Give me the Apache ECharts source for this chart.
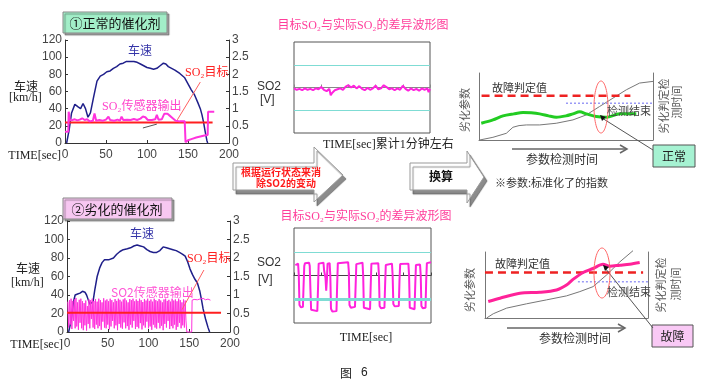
<!DOCTYPE html>
<html><head><meta charset="utf-8">
<script src="https://cdn.jsdelivr.net/npm/echarts/dist/echarts.min.js"></script>
<style>html,body{margin:0;padding:0;background:#fff}#c{width:711px;height:392px}</style>
</head><body><div id="c"></div>
<script>
// ---------- data ----------
const timeTicks = [0, 50, 100, 150, 200];
const speedTop = [[2,0],[5,15],[8,35],[12,45],[16,42],[19,40],[22,46],[25,40],[28,30],[31,35],[35,54],[39,72],[43,78],[47,80],[51,83],[55,84],[59,87],[63,89],[67,92],[71,93],[75,95],[80,95],[84,95],[88,94],[92,92],[96,90],[100,88],[104,87],[108,86],[112,87],[116,90],[120,93],[123,92],[126,89],[130,87],[134,85],[140,81],[146,76],[150,69],[154,62],[158,56],[162,47],[165,40],[167,33],[169,24],[171,13],[173,3],[174,0]];
const sensorTop = [[0,0.33],[4,0.33],[4.5,0.91],[5.5,0.91],[6,0.66],[9,0.67],[12,0.69],[15,0.66],[18,0.68],[21,0.72],[24,0.67],[27,0.69],[30,0.63],[34,0.65],[36,0.86],[38,0.65],[42,0.67],[46,0.65],[50,0.68],[53,0.77],[55,0.67],[60,0.65],[64,0.68],[67,0.65],[69,0.77],[71,0.67],[76,0.68],[80,0.67],[84,0.7],[88,0.67],[92,0.71],[95,0.77],[98,0.75],[101,0.67],[106,0.67],[110,0.69],[112,0.82],[114,0.68],[118,0.69],[121,0.85],[125,0.85],[128,0.79],[131,0.73],[135,0.65],[140,0.63],[146,0.63],[147,0.02],[150,0.08],[155,0.12],[160,0.16],[165,0.19],[170,0.22],[174,0.23],[174.5,0.91],[182,0.91]];
const targetTop = [[0,0.6],[180,0.6]];
const speedBottom = [[2,0],[5,12],[8,33],[10,40],[13,41],[16,42],[19,44],[22,43],[24,40],[26,35],[28,30],[30,31],[32,33],[34,45],[37,60],[40,69],[43,75],[46,78],[48,79],[51,78],[53,77],[57,80],[61,84],[65,87],[69,89],[74,90],[78,91],[82,93],[86,94],[90,93],[94,92],[98,89],[102,87],[106,86],[110,86],[114,88],[118,92],[122,91],[126,90],[130,89],[134,88],[138,86],[142,84],[145,82],[148,76],[151,68],[154,62],[157,57],[160,53],[163,44],[165,35],[167,25],[170,14],[173,5],[175,0]];
const sensorBottomStart = 1;
const sensorBottomV = [0.82,0.12,0.86,0.2,0.9,0.08,0.84,0.3,0.88,0.1,0.92,0.15,0.8,0.06,0.87,0.25,0.9,0.1,0.83,0.05,0.78,0.18,0.85,0.04,0.7,0.22,0.88,0.1,0.86,0.35,0.9,0.12,0.84,0.08,0.89,0.2,0.82,0.1,0.9,0.16,0.86,0.06,0.8,0.28,0.91,0.12,0.85,0.1,0.88,0.2,0.83,0.07,0.9,0.15,0.86,0.3,0.8,0.1,0.89,0.18,0.84,0.05,0.9,0.22,0.87,0.12,0.82,0.09,0.88,0.26,0.91,0.1,0.85,0.16,0.8,0.06,0.89,0.2,0.86,0.12,0.9,0.3,0.83,0.08,0.88,0.14,0.84,0.1,0.9,0.24,0.86,0.07,0.81,0.18,0.89,0.12,0.85,0.28,0.9,0.1,0.84,0.15,0.88,0.06,0.82,0.2,0.9,0.12,0.86,0.09,0.83,0.25,0.89,0.1,0.85,0.17,0.8,0.05,0.88,0.22,0.9,0.12,0.84,0.3,0.87,0.08,0.82,0.16,0.9,0.1,0.85,0.2,0.88,0.06,0.83,0.14,0.9,0.25,0.86,0.1,0.8,0.18,0.88,0.12,0.85,0.3];
const sensorBottomTail = [[147,0],[153,0],[153.5,0.86],[156,0.88],[158,0.92],[160,0.87],[163,0.89],[165,0.85],[167,0.91],[170,0.87],[173,0.89],[176,0.86]];
const targetBottom = [[0,0.52],[189,0.52]];
const diffNormal = [[0,-0.02],[2,-0.05],[4,-0.03],[6,-0.06],[8,-0.02],[10,-0.05],[12,-0.03],[14,-0.06],[16,-0.02],[18,-0.04],[20,0.01],[22,-0.05],[24,-0.08],[26,-0.03],[27,-0.17],[28,-0.12],[30,-0.06],[31,-0.1],[32,-0.04],[34,-0.02],[36,-0.05],[38,0.02],[40,0.05],[42,0.0],[44,0.04],[46,-0.02],[48,0.03],[50,-0.03],[52,-0.06],[54,-0.01],[56,-0.05],[58,-0.02],[60,0.04],[62,-0.04],[64,-0.02],[66,0.05],[68,0.01],[70,-0.04],[72,-0.02],[74,-0.06],[76,-0.02],[78,-0.05],[80,0.04],[82,-0.03],[84,-0.07],[86,-0.02],[88,-0.06],[90,-0.03],[92,-0.07],[94,-0.02],[96,-0.05],[98,-0.02],[99,-0.1],[100,-0.03]];
const diffAged = [[1,0.22],[3,0.25],[3.5,0.0],[4,-0.62],[5,-0.67],[6.5,-0.66],[7,-0.2],[7.5,0.2],[8,0.26],[11,0.27],[11.5,0.2],[12,-0.3],[12.5,-0.72],[13.5,-0.76],[17,-0.75],[17.5,-0.3],[18,0.25],[19,0.28],[21.5,0.27],[22,0.1],[23,-0.05],[23.5,-0.32],[24,-0.1],[24.5,0.25],[26,0.26],[26.5,0.0],[27,-0.7],[28,-0.76],[31,-0.75],[31.5,-0.2],[32,0.26],[33,0.29],[39.5,0.28],[40,0.1],[40.5,-0.62],[41.5,-0.68],[44.5,-0.66],[45,-0.2],[45.5,0.24],[46.5,0.28],[50,0.27],[50.5,0.0],[51,-0.68],[52,-0.72],[55.5,-0.71],[56,-0.2],[56.5,0.25],[57.5,0.28],[61.5,0.26],[62,0.0],[62.5,-0.64],[63.5,-0.69],[66,-0.68],[66.5,-0.2],[67,0.22],[68,0.26],[71.5,0.25],[72,0.0],[72.5,-0.6],[73.5,-0.65],[76.5,-0.64],[77,-0.1],[77.5,0.24],[78.5,0.26],[83.5,0.25],[84,0.0],[84.5,-0.68],[85.5,-0.72],[88,-0.71],[88.5,-0.2],[89,0.22],[90,0.24],[92,0.23],[92.5,0.0],[93,-0.64],[94,-0.69],[96,-0.68],[96.5,-0.1],[97,0.26],[98,0.29],[100,0.28]];
const bandLevels = [0.5, -0.5];
const nThreshold = [[-6,66],[87,66]];
const nEnd = [[50,55],[100,55]];
const nTime = [[0.4,0],[8,4],[15.7,10],[19.5,19],[23,21.5],[27.2,22.5],[34.9,22.5],[44.4,25],[54,30],[61.7,37.5],[69.3,50],[77,62.5],[84.7,75],[92.3,85],[100,87.5]];
const nParam = [[1.3,25],[8,30],[13.8,36],[20,39],[25.3,41],[30,40.5],[34.9,39],[40,36],[44.4,34],[50,36],[54,39],[57.9,42],[61.7,39],[67.4,35],[73.2,34],[80.8,39],[90.4,39]];
const fThreshold = [[-8,69],[97,69]];
const fEnd = [[57,55],[100,55]];
const fTime = [[1,0],[5.1,6.5],[13.3,15],[25.5,21.5],[37.8,27.5],[50,33.5],[58.2,40],[66.3,47.5],[74.5,65],[82.7,85],[90.8,102]];
const fParam = [[2,25],[9.2,30],[21.4,37.5],[33.7,39],[43.9,42.5],[50,50],[54,58.5],[60.2,69],[66.3,75],[72.4,81.5],[76.5,78.5],[82.7,80],[88.8,81.5],[94.9,84]];
const leaderTopTarget = [[165,71],[137,27]];
const leaderTopSensor = [[95,17.5],[112,22]];
const leaderBottomTarget = [[168,67],[141,24]];

// ---------- build ----------
const SANS = '"Liberation Sans", Arial, sans-serif';
const CJK = '"Noto Sans CJK SC", sans-serif';
const SERIF = '"Liberation Serif", "Noto Sans CJK SC", serif';
const sensorBottom = sensorBottomV.map((v,i)=>[sensorBottomStart+i, v]).concat(sensorBottomTail);

const axLine = c => ({show:true, onZero:false, lineStyle:{color:c, width:1}});
const timeAxis = g => ({type:'value', gridIndex:g, min:timeTicks[0], max:timeTicks[timeTicks.length-1], interval:timeTicks[1]-timeTicks[0],
  axisLine:axLine('#333'), axisTick:{show:true, inside:true, length:3, lineStyle:{color:'#333'}},
  axisLabel:{fontFamily:SANS, fontSize:12, color:'#444', margin:6}, splitLine:{show:false}});
const speedAxis = g => ({type:'value', gridIndex:g, min:0, max:120, interval:20, position:'left',
  axisLine:axLine('#333'), axisTick:{show:true, inside:true, length:3, lineStyle:{color:'#333'}},
  axisLabel:{fontFamily:SANS, fontSize:12, color:'#444', margin:3}, splitLine:{show:false}});
const voltAxis = g => ({type:'value', gridIndex:g, min:0, max:3, interval:0.5, position:'right',
  axisLine:axLine('#333'), axisTick:{show:true, inside:true, length:3, lineStyle:{color:'#333'}},
  axisLabel:{fontFamily:SANS, fontSize:12, color:'#444', margin:3}, splitLine:{show:false}});
const diffX = (g,c) => ({type:'value', gridIndex:g, min:0, max:100, interval:20,
  axisLine:{show:true, onZero:true, lineStyle:{color:c, width:1}}, axisTick:{show:true, inside:true, length:3, lineStyle:{color:c}},
  axisLabel:{show:false}, splitLine:{show:false}});
const diffY = g => ({type:'value', gridIndex:g, min:-1, max:1, axisLine:{show:false}, axisTick:{show:false}, axisLabel:{show:false}, splitLine:{show:false}});
const plainX = g => ({type:'value', gridIndex:g, min:0, max:100, axisLine:axLine('#777'), axisTick:{show:false}, axisLabel:{show:false}, splitLine:{show:false}});
const plainY = (g,pos) => ({type:'value', gridIndex:g, min:0, max:100, position:pos, axisLine:axLine('#777'), axisTick:{show:false}, axisLabel:{show:false}, splitLine:{show:false}});

const ln = (data, xi, yi, color, width, extra) => Object.assign({type:'line', data, xAxisIndex:xi, yAxisIndex:yi, symbol:'none', silent:true,
  lineStyle:{color, width}, clip:false}, extra||{});

const option = {
  animation:false,
  backgroundColor:'#fff',
  grid:[
    {left:65, top:40, width:164, height:103},
    {left:294, top:42, width:136, height:91, show:true, borderColor:'#555', borderWidth:1, backgroundColor:'rgba(0,0,0,0)'},
    {left:479, top:73, width:174, height:67},
    {left:67, top:221, width:163, height:111},
    {left:294, top:228, width:137, height:95, show:true, borderColor:'#555', borderWidth:1, backgroundColor:'rgba(0,0,0,0)'},
    {left:485, top:252, width:163, height:66}
  ],
  xAxis:[timeAxis(0), diffX(1,'#888'), plainX(2), timeAxis(3), diffX(4,'#444'), plainX(5)],
  yAxis:[speedAxis(0), voltAxis(0), diffY(1), plainY(2,'left'), plainY(2,'right'),
         speedAxis(3), voltAxis(3), diffY(4), plainY(5,'left'), plainY(5,'right')],
  series:[
    ln(speedTop,0,0,'#1f1f8a',1.5),
    ln(targetTop,0,1,'#ff1f1f',2),
    ln(sensorTop,0,1,'#ff33dd',2),
    ln(leaderTopTarget,0,0,'#ff6060',1),
    ln(leaderTopSensor,0,0,'#555',1),
    ln(diffNormal,1,2,'#ff22dd',2,{markLine:{symbol:['none','none'], silent:true, label:{show:false},
      data:bandLevels.map(v=>({yAxis:v, lineStyle:{color:'#7fdcd4', width:1.2, type:'solid'}}))}}),
    ln(nTime,2,3,'#777',1),
    ln(nThreshold,2,3,'#ee2222',2.5,{lineStyle:{color:'#ee2222', width:2.5, type:[8,5]}}),
    ln(nEnd,2,3,'#9a9af5',1.5,{lineStyle:{color:'#9a9af5', width:1.5, type:[2,2]}}),
    ln(nParam,2,3,'#22cc22',3,{smooth:0.3}),
    ln(speedBottom,3,5,'#1f1f8a',1.5),
    ln(sensorBottom,3,6,'#ff33dd',1),
    ln(targetBottom,3,6,'#ff1f1f',2),
    ln(leaderBottomTarget,3,5,'#ff6060',1),
    ln(diffAged,4,7,'#ff22dd',2,{markLine:{symbol:['none','none'], silent:true, label:{show:false},
      data:[{yAxis:bandLevels[0], lineStyle:{color:'#7fdcd4', width:1.2, type:'solid'}},{yAxis:bandLevels[1], lineStyle:{color:'#7fdcd4', width:3, type:'solid'}}]}}),
    ln(fTime,5,8,'#777',1),
    ln(fThreshold,5,8,'#ee2222',2.5,{lineStyle:{color:'#ee2222', width:2.5, type:[8,5]}}),
    ln(fEnd,5,8,'#9a9af5',1.5,{lineStyle:{color:'#9a9af5', width:1.5, type:[2,2]}}),
    ln(fParam,5,8,'#ff2299',3,{smooth:0.3})
  ],
  graphic:[]
};

const G = option.graphic;
function T(x,y,text,size,fill,fam,align,extra){
  G.push(Object.assign({type:'text', x, y, z:100, silent:true, style:{text, fontSize:size, fontFamily:fam||CJK, fill:fill||'#222', align:align||'left', verticalAlign:'middle'}}, extra||{}));
}
function R(x,y,w,h,fill,stroke,shadow){
  G.push({type:'rect', z:90, silent:true, shape:{x,y,width:w,height:h}, style:{fill, stroke, lineWidth:1, shadowColor:shadow?'rgba(0,0,0,0.35)':'transparent', shadowOffsetX:shadow?2:0, shadowOffsetY:shadow?2:0, shadowBlur:shadow?1:0}});
}
function L(pts,color,w){ G.push({type:'polyline', z:95, silent:true, shape:{points:pts}, style:{stroke:color, lineWidth:w, fill:'none'}}); }

// left panels
R(63,12,104,21,'#a2eec8','#888',true); T(115,23,'①正常的催化剂',13,'#111',CJK,'center');
R(63,198,109,21,'#f7c7f1','#888',true); T(117,209,'②劣化的催化剂',13,'#111',CJK,'center');
T(61,156,'TIME[sec]',12,'#222',SERIF,'right');
T(63,345,'TIME[sec]',12,'#222',SERIF,'right');
T(14,86,'车速',12,'#222',CJK); T(9,98,'[km/h]',12,'#222',SERIF);
T(16,268,'车速',12,'#222',CJK); T(11,283,'[km/h]',12,'#222',SERIF);
T(128,50,'车速',12,'#3535a8',CJK); T(130,233,'车速',12,'#3535a8',CJK);
T(185,73,'SO₂目标',12,'#ff2020',SERIF); T(187,259,'SO₂目标',12,'#ff2020',SERIF);
T(102,107,'SO₂传感器输出',12,'#ff44cc',SERIF); T(111,292,'SO2传感器输出',12,'#ff55d5',CJK);

// middle panels
T(363,26,'目标SO₂与实际SO₂的差异波形图',12,'#ff3d9a',SERIF,'center');
T(366,217,'目标SO₂与实际SO₂的差异波形图',12,'#ff3d9a',SERIF,'center');
T(257,87,'SO2',12,'#333',SANS); T(260,100,'[V]',12,'#333',SANS);
T(257,263,'SO2',12,'#333',SANS); T(258,280,'[V]',12,'#333',SANS);
T(323,145,'TIME[sec]累计1分钟左右',12,'#222',SERIF);
T(366,338,'TIME[sec]',12,'#222',SERIF,'center');

// block arrows
G.push({type:'polygon', z:80, silent:true, shape:{points:[[233,163],[314,163],[314,147],[343,175],[314,202],[314,190],[233,190]]},
  style:{fill:'#fff', stroke:'#999', lineWidth:1, shadowColor:'rgba(0,0,0,0.45)', shadowOffsetX:3, shadowOffsetY:4, shadowBlur:1}});
T(281,172,'根据运行状态来消',10,'#ff1a1a',CJK,'center',{style:{text:'根据运行状态来消',fontSize:10,fontWeight:'bold',fontFamily:CJK,fill:'#ff1a1a',align:'center',verticalAlign:'middle'}});
T(286,183,'除SO2的变动',10,'#ff1a1a',CJK,'center',{style:{text:'除SO2的变动',fontSize:10,fontWeight:'bold',fontFamily:CJK,fill:'#ff1a1a',align:'center',verticalAlign:'middle'}});
G.push({type:'polygon', z:80, silent:true, shape:{points:[[410,163],[467,163],[467,151],[484,177],[467,203],[467,190],[410,190]]},
  style:{fill:'#fff', stroke:'#999', lineWidth:1, shadowColor:'rgba(0,0,0,0.45)', shadowOffsetX:3, shadowOffsetY:4, shadowBlur:1}});
T(441,176,'换算',12,'#111',CJK,'center',{style:{text:'换算',fontSize:12,fontWeight:'bold',fontFamily:CJK,fill:'#111',align:'center',verticalAlign:'middle'}});

// right panels
function rightPanel(o){
  T(o.thX,o.thY,'故障判定值',11,'#333');
  T(o.endX,o.endY,'检测结束',11,'#444');
  T(o.pX,o.pY,'劣化参数',11,'#555',CJK,'center',{rotation:Math.PI/2});
  T(o.c1X,o.c1Y,'劣化判定检',11,'#555',CJK,'center',{rotation:Math.PI/2});
  T(o.c2X,o.c2Y,'测时间',11,'#555',CJK,'center',{rotation:Math.PI/2});
  L([[o.aX1,o.aY],[o.aX2,o.aY]],'#666',1.5);
  L([[o.aX2-7,o.aY-4],[o.aX2,o.aY],[o.aX2-7,o.aY+4]],'#666',1.5);
  T(o.tX,o.tY,'参数检测时间',12,'#333',CJK,'center');
  G.push({type:'ellipse', z:96, silent:true, shape:{cx:o.eX,cy:o.eY,rx:o.rx,ry:o.ry}, style:{fill:'none', stroke:'#ff6666', lineWidth:1}});
  L([[o.hX,o.hY],o.lEnd],'#555',1);
  G.push({type:'polygon', z:97, silent:true, shape:{points:[[o.hX-2,o.hY-3],[o.hX+4,o.hY-1],[o.hX,o.hY+3]]}, style:{fill:'#111'}});
  R(o.bx,o.by,o.bw,o.bh,o.bfill,'#555',false);
  T(o.bx+o.bw/2,o.by+o.bh/2,o.btxt,12,'#222',CJK,'center');
}
rightPanel({thX:492,thY:88,endX:607,endY:111,pX:465,pY:110,c1X:664,c1Y:106,c2X:677,c2Y:102,aX1:512,aX2:627,aY:149,tX:562,tY:159,
  eX:601,eY:107,rx:7,ry:26,hX:602,hY:118,lEnd:[653,150],bx:653,by:145,bw:42,bh:22,bfill:'#a6f2d2',btxt:'正常'});
rightPanel({thX:495,thY:264,endX:607,endY:292,pX:470,pY:290,c1X:661,c1Y:285,c2X:676,c2Y:284,aX1:507,aX2:625,aY:328,tX:575,tY:338,
  eX:602,eY:273,rx:8,ry:25,hX:605,hY:268,lEnd:[653,328],bx:652,by:325,bw:41,bh:22,bfill:'#f9c9f5',btxt:'故障'});
T(495,183,'※参数:标准化了的指数',11,'#333');

// caption
T(340,373,'图',12,'#222',CJK); T(361,373,'6',12,'#222',SANS);

const chart = echarts.init(document.getElementById('c'), null, {renderer:'canvas'});
chart.setOption(option);
</script></body></html>
